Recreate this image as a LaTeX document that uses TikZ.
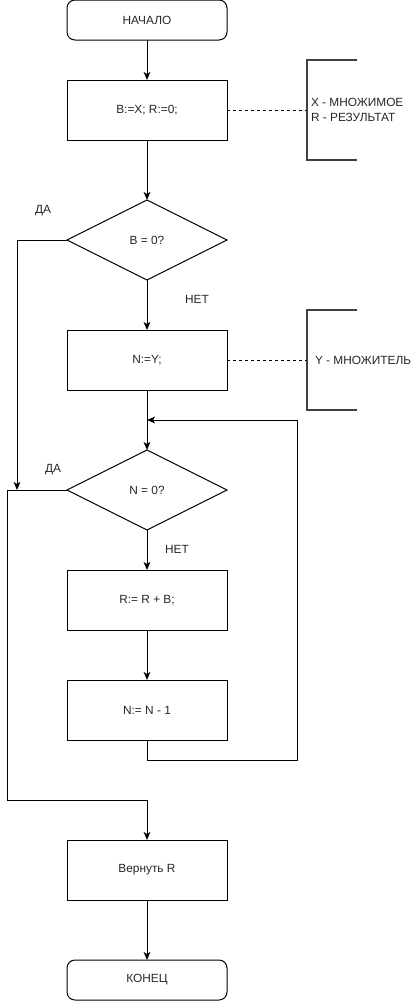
\documentclass[tikz,border=0pt]{standalone}
\usepackage{fontspec}
\setmainfont{Liberation Sans}
\usetikzlibrary{shapes.geometric,arrows.meta}
\begin{document}
\begin{tikzpicture}[x=0.75pt,y=-0.75pt,
  every node/.style={font=\fontsize{8.9}{11.25}\selectfont, text=black!85, outer sep=0pt, inner sep=0pt},
  line/.style={line width=0.75pt, draw=black},
  arr/.style={line, -{Stealth[length=6pt,width=5pt,inset=1.5pt]}},
  procbox/.style={line, rectangle, minimum width=120pt, minimum height=45pt},
  termbox/.style={line, rectangle, rounded corners=6pt, minimum width=120pt, minimum height=30pt},
  decision/.style={line, diamond, aspect=2, minimum width=120pt, minimum height=60pt},
  notebrace/.style={line width=1.5pt, draw=black!75},
  notelink/.style={line width=0.75pt, dashed, dash pattern=on 2.25pt off 2.25pt},
  lbl/.style={anchor=center}]
\useasboundingbox (0,0) rectangle (414,1001);

% main flow
\node[termbox]  (start) at (147,20)  {НАЧАЛО};
\node[procbox]  (init)  at (147,110) {B:=X; R:=0;};
\node[decision] (c1)    at (147,240) {B = 0?};
\node[procbox]  (ny)    at (147,360) {N:=Y;};
\node[decision] (c2)    at (147,490) {N = 0?};
\node[procbox]  (add)   at (147,600) {R:= R + B;};
\node[procbox]  (dec)   at (147,710) {N:= N - 1};
\node[procbox]  (ret)   at (147,870) {Вернуть R};
\node[termbox]  (stop)  at (147,980) {КОНЕЦ};

% branch labels
\node[lbl] (yes1) at (43,211) {ДА};
\node[lbl] (no1)  at (197,299) {НЕТ};
\node[lbl] (yes2) at (53,470) {ДА};
\node[lbl] (no2)  at (177,549) {НЕТ};

% bend points
\coordinate (j1)    at (17,490);
\coordinate (b1)    at (7,800);
\coordinate (loop1) at (297,760);
\coordinate (loopend) at (147,420);

\draw[arr] (start) -- (init);
\draw[arr] (init) -- (c1);
\draw[arr] (c1) -- (ny);
\draw[arr] (ny) -- (c2);
\draw[arr] (c2) -- (add);
\draw[arr] (add) -- (dec);
\draw[arr] (ret) -- (stop);
\draw[arr] (c1.west) -| (j1);
\draw[arr] (c2.west) -| (b1) -| (ret.north);
\draw[arr] (dec.south) |- (loop1) |- (loopend);

% annotations
\coordinate (n1) at (307,110);
\coordinate (n2) at (307,360);
\draw[notebrace] (357,60) -- (307,60) -- (307,160) -- (357,160);
\draw[notebrace] (357,310) -- (307,310) -- (307,410) -- (357,410);
\draw[notelink] (init.east) -- (n1);
\draw[notelink] (ny.east) -- (n2);
\node[anchor=west, align=left] (note1) at (311,110) {X - МНОЖИМОЕ\\R - РЕЗУЛЬТАТ};
\node[anchor=west] (note2) at (315,360) {Y - МНОЖИТЕЛЬ};
\end{tikzpicture}
\end{document}
